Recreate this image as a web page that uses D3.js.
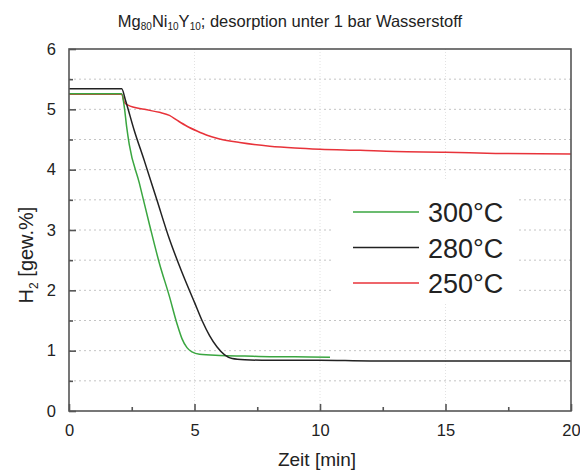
<!DOCTYPE html>
<html><head><meta charset="utf-8">
<script src="https://cdn.jsdelivr.net/npm/d3@7"></script>
<style>body{margin:0;background:#fff}svg{display:block;font-family:"Liberation Sans",Arial,sans-serif}</style>
</head><body><svg id="c" width="580" height="470"></svg>
<script>
const xTicks=[0,5,10,15,20];
const yTicks=[0,1,2,3,4,5,6];
const legendLabels=["300°C","280°C","250°C"];
const seriesColors=["#3aa640","#222222","#e8333a"];
const t300=[0,2.1,2.2,2.3,2.4,2.8,3.2,3.6,4.0,4.3,4.5,4.7,4.9,5.2,6,7,8,9,10.4];
const h300=[5.26,5.26,5.05,4.7,4.42,3.78,3.1,2.45,1.9,1.45,1.2,1.05,0.98,0.94,0.92,0.91,0.9,0.9,0.89];
const t280=[0,2.1,2.25,2.6,3.0,3.5,4.0,4.5,5.0,5.3,5.6,5.9,6.2,6.5,7,8,10,12,15,20];
const h280=[5.34,5.34,5.15,4.65,4.15,3.5,2.85,2.3,1.8,1.5,1.25,1.06,0.93,0.87,0.85,0.84,0.84,0.83,0.83,0.83];
const t250=[0,2.1,2.2,2.35,3.0,3.6,4.0,4.3,4.7,5.1,5.5,6.0,6.8,8.0,9.0,10,11.6,13,15,17,20];
const h250=[5.25,5.25,5.12,5.07,5.0,4.95,4.9,4.82,4.72,4.64,4.57,4.51,4.45,4.39,4.36,4.34,4.32,4.3,4.29,4.27,4.26];

const svg=d3.select("#c");
const L=69,R=571,T=49,B=411;
const x=d3.scaleLinear().domain([0,20]).range([L,R]);
const y=d3.scaleLinear().domain([0,6]).range([B,T]);

// grid
const g=svg.append("g");
g.selectAll("line.h").data(d3.range(0.5,6,0.5)).join("line")
 .attr("x1",L).attr("x2",R).attr("y1",d=>y(d)).attr("y2",d=>y(d))
 .attr("stroke","#c4c4c4").attr("stroke-width",1).attr("stroke-dasharray","2,3");
g.selectAll("line.v").data([5,10,15]).join("line")
 .attr("y1",T).attr("y2",B).attr("x1",d=>x(d)).attr("x2",d=>x(d))
 .attr("stroke","#e2e2e2").attr("stroke-width",1).attr("stroke-dasharray","1,2");

// legend background
svg.append("rect").attr("x",333).attr("y",180).attr("width",185).attr("height",124).attr("fill","#fff");

// lines
const line=d3.line().x(d=>x(d[0])).y(d=>y(d[1])).curve(d3.curveMonotoneX);
const series=[[t300,h300],[t280,h280],[t250,h250]];
const order=[2,0,1];
order.forEach(i=>{
  const [t,h]=series[i];
  svg.append("path").datum(t.map((v,j)=>[v,h[j]])).attr("d",line)
   .attr("fill","none").attr("stroke",seriesColors[i]).attr("stroke-width",1.5);
});

// frame
svg.append("rect").attr("x",L).attr("y",T).attr("width",R-L).attr("height",B-T)
 .attr("fill","none").attr("stroke","#555").attr("stroke-width",1.6);

// axes with inward ticks
const xa=svg.append("g").attr("transform",`translate(0,${B})`)
 .call(d3.axisBottom(x).tickValues(xTicks).tickSize(-7).tickPadding(13).tickFormat(d3.format("d")));
const xm=svg.append("g").attr("transform",`translate(0,${B})`)
 .call(d3.axisBottom(x).tickValues([2.5,7.5,12.5,17.5]).tickSize(-4).tickFormat(""));
const ya=svg.append("g").attr("transform",`translate(${L},0)`)
 .call(d3.axisLeft(y).tickValues(yTicks).tickSize(-7).tickPadding(13).tickFormat(d3.format("d")));
const ym=svg.append("g").attr("transform",`translate(${L},0)`)
 .call(d3.axisLeft(y).tickValues(d3.range(0.5,6,1)).tickSize(-4).tickFormat(""));
[xa,xm,ya,ym].forEach(a=>{
  a.select(".domain").remove();
  a.selectAll(".tick line").attr("stroke","#555").attr("stroke-width",1.6);
  a.selectAll("text").attr("fill","#222").attr("font-size",16.5).attr("font-family","Liberation Sans, Arial, sans-serif");
});

// title
const title=svg.append("text").attr("x",290).attr("y",27).attr("text-anchor","middle")
 .attr("font-size",16.5).attr("fill","#222");
title.append("tspan").text("Mg");
title.append("tspan").attr("font-size",10).attr("dy",3).text("80");
title.append("tspan").attr("dy",-3).text("Ni");
title.append("tspan").attr("font-size",10).attr("dy",3).text("10");
title.append("tspan").attr("dy",-3).text("Y");
title.append("tspan").attr("font-size",10).attr("dy",3).text("10");
title.append("tspan").attr("dy",-3).text("; desorption unter 1 bar Wasserstoff");

// axis titles
svg.append("text").attr("x",317).attr("y",466).attr("text-anchor","middle")
 .attr("font-size",19).attr("fill","#222").text("Zeit [min]");
const yl=svg.append("text").attr("transform","translate(33,255) rotate(-90)")
 .attr("text-anchor","middle").attr("font-size",20).attr("fill","#222");
yl.append("tspan").text("H");
yl.append("tspan").attr("font-size",12).attr("dy",5).text("2");
yl.append("tspan").attr("dy",-5).text(" [gew.%]");

// legend
const lg=svg.append("g");
legendLabels.forEach((lab,i)=>{
  const yy=212+i*35.5;
  lg.append("line").attr("x1",353).attr("x2",419).attr("y1",yy).attr("y2",yy)
   .attr("stroke",seriesColors[i]).attr("stroke-width",1.5);
  lg.append("text").attr("x",428).attr("y",yy+10).attr("font-size",27).attr("fill","#222").text(lab);
});
</script></body></html>
